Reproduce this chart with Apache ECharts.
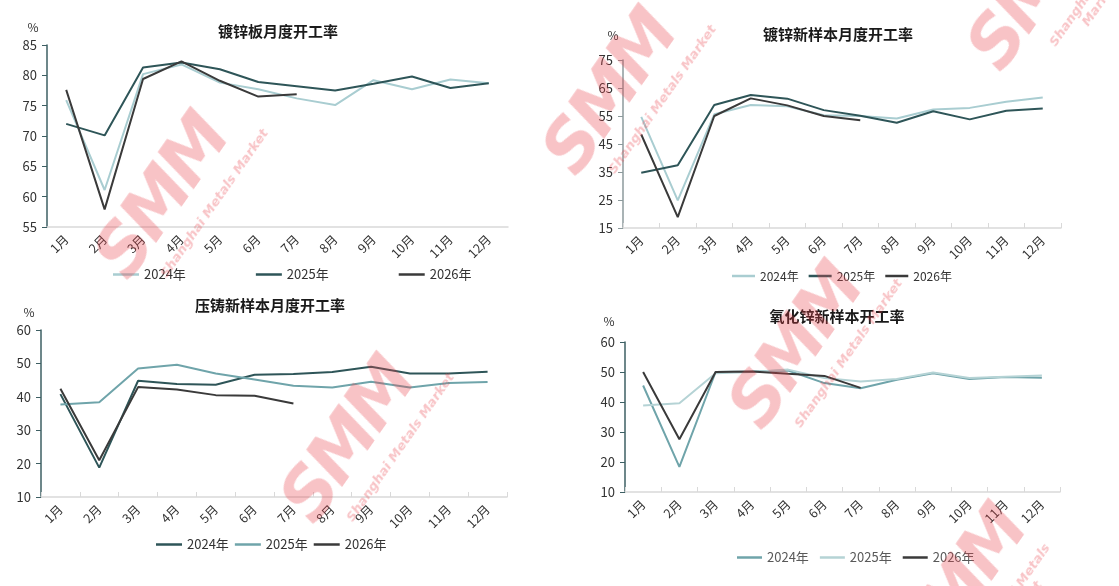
<!DOCTYPE html>
<html>
<head>
<meta charset="utf-8">
<title>开工率</title>
<script src="https://cdn.jsdelivr.net/npm/echarts@6/dist/echarts.min.js"></script>
<style>
    html, body { margin: 0; padding: 0; background: #fff; }
    #wrap { position: relative; width: 1119px; height: 586px; overflow: hidden; }
    .box { position: absolute; }
    #c1 { left: 0; top: 0; width: 560px; height: 290px; }
    #c2 { left: 560px; top: 0; width: 559px; height: 290px; }
    #c3 { left: 0; top: 290px; width: 560px; height: 296px; }
    #c4 { left: 560px; top: 290px; width: 559px; height: 296px; }
    .wm { position: absolute; pointer-events: none; color: rgba(232, 60, 70, 0.31);
          transform: translate(-50%, -50%) rotate(-55deg); text-align: center; line-height: 1; }
    .wm b { display: block; font: italic 900 70px "DejaVu Sans", sans-serif; letter-spacing: -4px; }
    .wm i { display: block; font: 700 italic 13px "DejaVu Sans", sans-serif; margin-top: 0; margin-left: 50px; }
</style>
</head>
<body>
<div id="wrap">
    <div id="c1" class="box"></div>
    <div id="c2" class="box"></div>
    <div id="c3" class="box"></div>
    <div id="c4" class="box"></div>
    <!-- SMM 水印 -->
    <div class="wm" style="left:166px;top:200px;"><b>SMM</b><i>Shanghai Metals Market</i></div>
    <div class="wm" style="left:614px;top:96px;"><b>SMM</b><i>Shanghai Metals Market</i></div>
    <div class="wm" style="left:1045px;top:-4px;"><b>SMM</b><i>Shanghai Metals Market</i></div>
    <div class="wm" style="left:352px;top:444px;"><b>SMM</b><i>Shanghai Metals Market</i></div>
    <div class="wm" style="left:800px;top:350px;"><b>SMM</b><i>Shanghai Metals Market</i></div>
    <div class="wm" style="left:970px;top:596px;"><b>SMM</b><i>Shanghai Metals Market</i></div>
</div>
<script>
var months = ['1月', '2月', '3月', '4月', '5月', '6月', '7月', '8月', '9月', '10月', '11月', '12月'];
var yearNames = ['2024年', '2025年', '2026年'];

//镀锌板月度开工率
var galvTicks = [55, 60, 65, 70, 75, 80, 85];
var galv2024 = [75.9, 61.1, 80.2, 81.8, 78.8, 77.7, 76.2, 75.1, 79.2, 77.7, 79.3, 78.7];
var galv2025 = [72.0, 70.1, 81.3, 82.1, 81.0, 78.9, 78.2, 77.5, 78.6, 79.8, 77.9, 78.7];
var galv2026 = [77.6, 57.9, 79.4, 82.3, 79.1, 76.5, 76.9];

//镀锌新样本月度开工率
var newGalvTicks = [15, 25, 35, 45, 55, 65, 75];
var newGalv2024 = [54.7, 24.9, 55.6, 58.9, 58.5, 55.3, 55.0, 54.1, 57.3, 57.9, 60.1, 61.6];
var newGalv2025 = [34.7, 37.4, 58.9, 62.5, 61.2, 57.1, 55.1, 52.6, 56.7, 53.8, 56.9, 57.7];
var newGalv2026 = [48.4, 18.9, 55.0, 61.3, 58.8, 55.0, 53.5];

//压铸新样本月度开工率
var dieTicks = [10, 20, 30, 40, 50, 60];
var die2024 = [40.8, 18.8, 44.8, 43.8, 43.6, 46.6, 46.8, 47.4, 49.0, 47.0, 47.0, 47.5];
var die2025 = [37.7, 38.4, 48.5, 49.6, 47.0, 45.2, 43.3, 42.8, 44.5, 42.8, 44.1, 44.4];
var die2026 = [42.4, 21.0, 42.9, 42.2, 40.5, 40.3, 38.0];

//氧化锌新样本开工率
var znoTicks = [10, 20, 30, 40, 50, 60];
var zno2024 = [45.5, 18.4, 50.0, 50.2, 50.5, 46.3, 44.6, 47.4, 49.6, 47.7, 48.3, 48.1];
var zno2025 = [38.8, 39.6, 49.6, 50.0, 50.8, 48.0, 46.8, 47.7, 49.8, 48.0, 48.4, 48.8];
var zno2026 = [50.0, 27.6, 50.0, 50.2, 49.4, 48.7, 44.7];

var FONT = '"Noto Sans CJK SC", "Noto Sans", sans-serif';

function buildOption(cfg) {
    var ticks = cfg.ticks;
    var series = [];
    for (var i = 0; i < yearNames.length; i++) {
        series.push({
            name: yearNames[i],
            type: 'line',
            data: cfg.data[i],
            symbol: 'none',
            lineStyle: { width: 2, color: cfg.colors[i] },
            itemStyle: { color: cfg.colors[i] }
        });
    }
    return {
        animation: false,
        textStyle: { fontFamily: FONT },
        title: {
            text: cfg.title,
            left: cfg.titleX,
            top: cfg.titleY,
            textAlign: 'center',
            textStyle: { fontSize: 15, fontWeight: 'bold', color: '#1a1a1a', fontFamily: FONT }
        },
        graphic: [{
            type: 'text', x: cfg.pctX, y: cfg.pctY,
            style: { text: '%', fill: '#333', font: '12px ' + FONT, align: 'center', verticalAlign: 'middle' }
        }],
        legend: {
            data: yearNames,
            left: cfg.legendX,
            top: cfg.legendY,
            padding: 0,
            itemGap: cfg.legendGap,
            icon: 'rect',
            itemWidth: cfg.legendIcon,
            itemHeight: 2.5,
            textStyle: { fontSize: cfg.legendSize, color: cfg.legendColor, fontFamily: FONT }
        },
        grid: cfg.grid,
        xAxis: {
            type: 'category',
            data: months,
            boundaryGap: true,
            axisLine: { lineStyle: { color: '#d9d9d9', width: 1.5 } },
            axisTick: { show: cfg.xTicks, inside: true, length: 5, lineStyle: { color: '#d9d9d9' } },
            axisLabel: { rotate: 45, fontSize: 12.5, color: '#333', margin: 10, fontFamily: FONT }
        },
        yAxis: {
            type: 'value',
            min: ticks[0],
            max: ticks[ticks.length - 1],
            interval: ticks[1] - ticks[0],
            splitLine: { show: false },
            axisLine: { show: true, lineStyle: { color: cfg.yColor, width: 1.5 } },
            axisTick: { show: true, length: 5, lineStyle: { color: cfg.yColor } },
            axisLabel: { fontSize: 13, color: '#333', margin: 10, fontFamily: FONT }
        },
        series: series
    };
}

var chart1 = echarts.init(document.getElementById('c1'));
chart1.setOption(buildOption({
    title: '镀锌板月度开工率', titleX: 273, titleY: 19,
    pctX: 33, pctY: 27,
    ticks: galvTicks,
    data: [galv2024, galv2025, galv2026],
    colors: ['#a9cdd1', '#2e5558', '#3a3a3a'],
    grid: { left: 47, top: 45, right: 52, bottom: 63 },
    legendX: 113, legendY: 268, legendGap: 70, legendIcon: 26, legendSize: 13, legendColor: '#333',
    xTicks: false, yColor: '#3d5f63'
}));

var chart2 = echarts.init(document.getElementById('c2'));
chart2.setOption(buildOption({
    title: '镀锌新样本月度开工率', titleX: 273, titleY: 22,
    pctX: 53, pctY: 35,
    ticks: newGalvTicks,
    data: [newGalv2024, newGalv2025, newGalv2026],
    colors: ['#a9cdd1', '#2e5558', '#3a3a3a'],
    grid: { left: 63, top: 60, right: 58, bottom: 62 },
    legendX: 172, legendY: 270, legendGap: 10, legendIcon: 23, legendSize: 12, legendColor: '#333',
    xTicks: true, yColor: '#8c9a9c'
}));

var chart3 = echarts.init(document.getElementById('c3'));
chart3.setOption(buildOption({
    title: '压铸新样本月度开工率', titleX: 265, titleY: 3,
    pctX: 29, pctY: 22,
    ticks: dieTicks,
    data: [die2024, die2025, die2026],
    colors: ['#2e5558', '#6fa4aa', '#3a3a3a'],
    grid: { left: 41, top: 40, right: 53, bottom: 89 },
    legendX: 156, legendY: 248, legendGap: 6, legendIcon: 26, legendSize: 13, legendColor: '#333',
    xTicks: true, yColor: '#3d5f63'
}));

var chart4 = echarts.init(document.getElementById('c4'));
chart4.setOption(buildOption({
    title: '氧化锌新样本开工率', titleX: 272, titleY: 14,
    pctX: 49, pctY: 31,
    ticks: znoTicks,
    data: [zno2024, zno2025, zno2026],
    colors: ['#6fa4aa', '#b5d3d5', '#3a3a3a'],
    grid: { left: 65, top: 52, right: 59, bottom: 94 },
    legendX: 177, legendY: 261, legendGap: 11, legendIcon: 25, legendSize: 13, legendColor: '#595959',
    xTicks: true, yColor: '#3d5f63'
}));
</script>
</body>
</html>
